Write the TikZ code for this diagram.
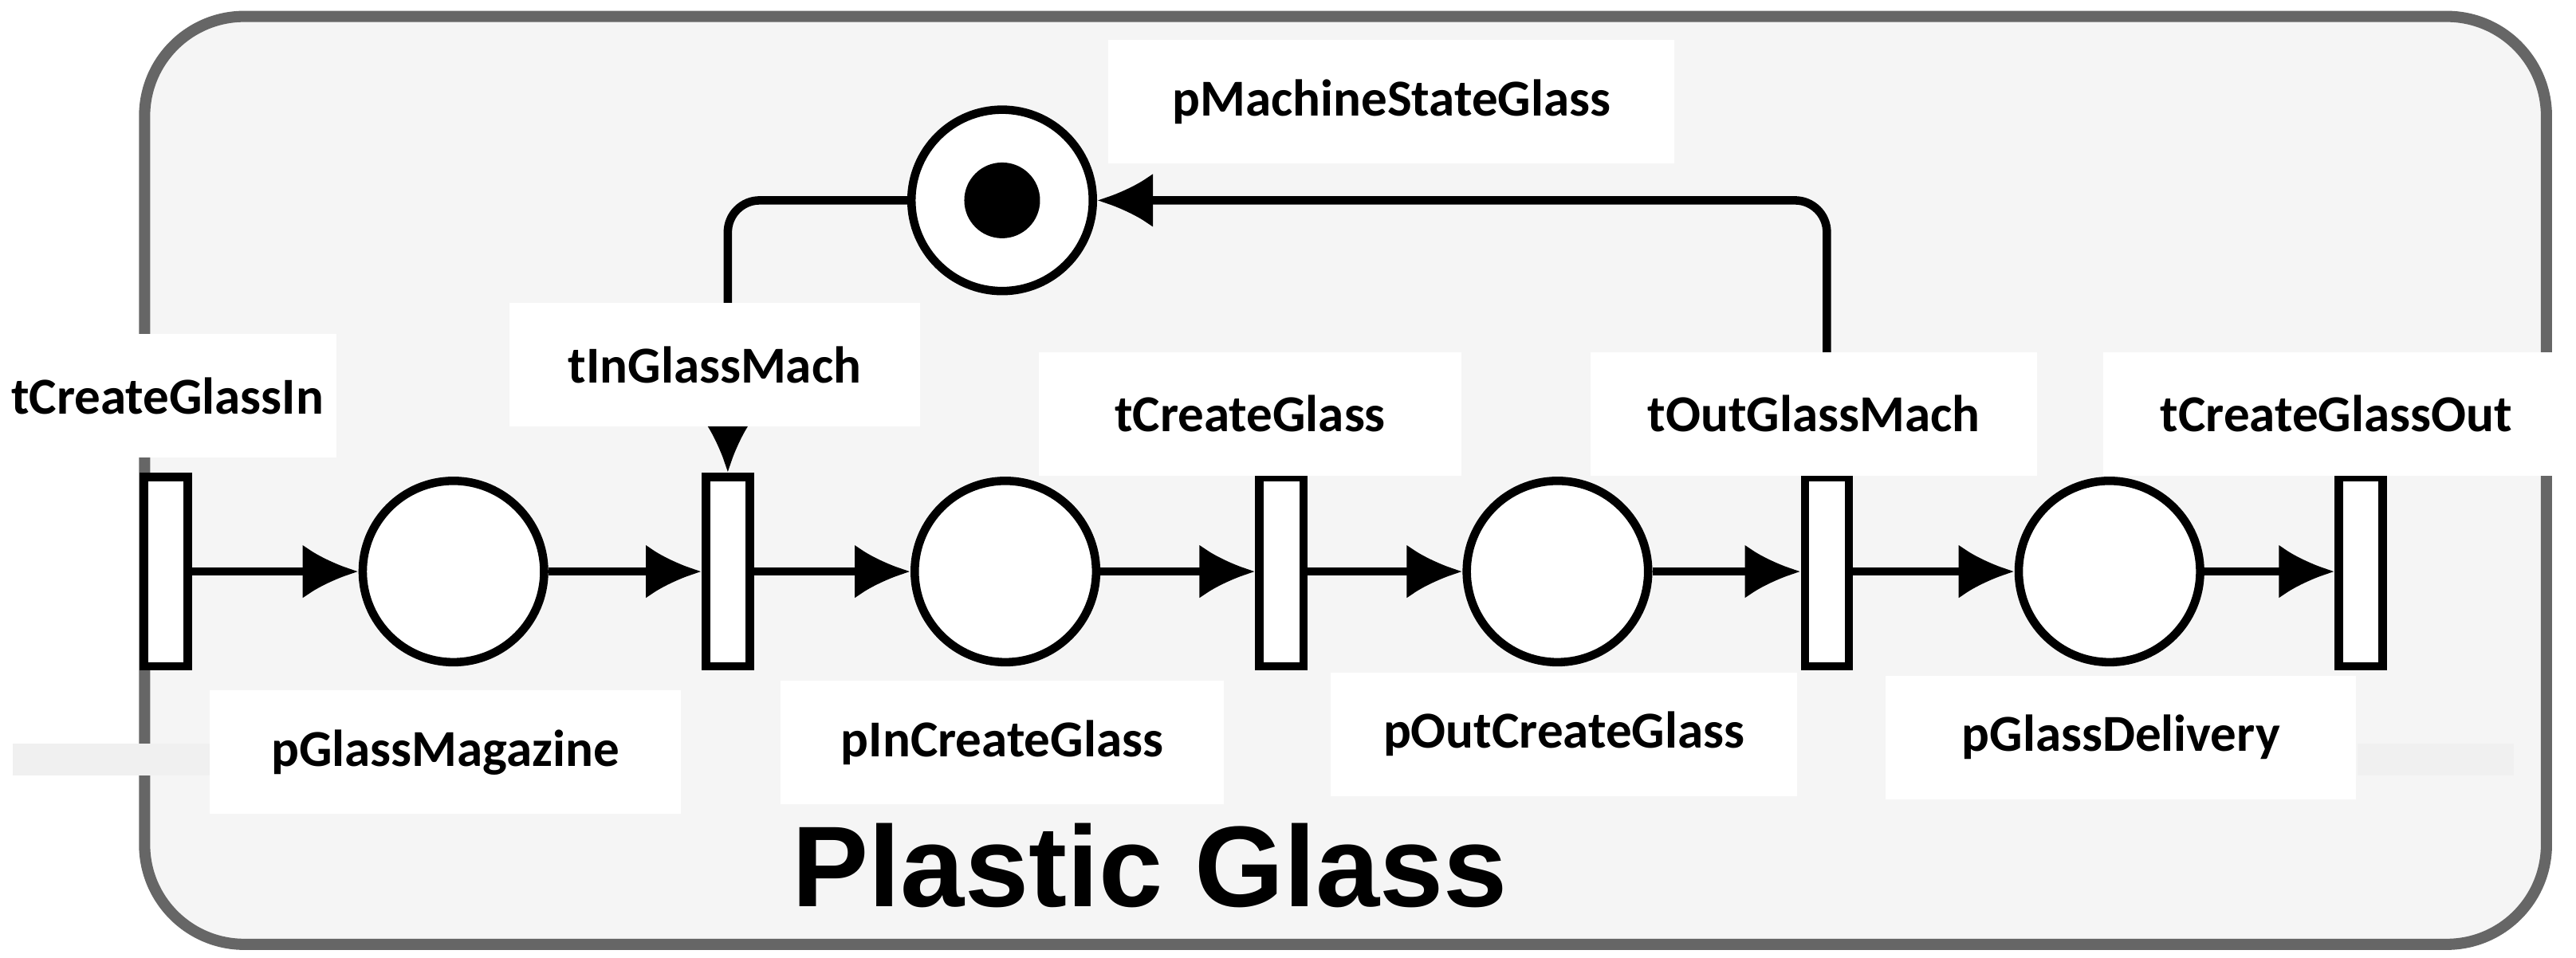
\documentclass[tikz,border=0pt]{standalone}
\usepackage{fontspec}
\setmainfont{Carlito}
\newfontfamily\titlefont{Liberation Sans}
\usetikzlibrary{arrows.meta,positioning}
\begin{document}
\begin{tikzpicture}[x=0.0412cm,y=-0.0412cm,
    trans/.style={draw,line width=6pt,fill=white,minimum width=1.1cm,minimum height=4.75cm,inner sep=0pt},
    place/.style={draw,circle,line width=6pt,fill=white,minimum size=4.55cm,inner sep=0pt},
    lbl/.style={fill=white,font=\fontsize{37}{42}\selectfont\bfseries,inner sep=0pt,minimum height=3.1cm},
    arc/.style={line width=6pt,-{Latex[length=1.4cm,width=1.35cm]},rounded corners=0.8cm}]
  \useasboundingbox (0,0) rectangle (1568,583);
  \draw[line width=8pt,draw=black!60,fill=black!4,rounded corners=2.5cm] (88,10) rectangle (1550,575);
  \fill[black!6] (8,453) rectangle (135,472);
  \fill[black!6] (1435,453) rectangle (1530,472);

  \node[trans] (t_in) at (101,348) {};
  \node[place] (p_mag) at (276,348) {};
  \node[trans] (t_mach) at (443,348) {};
  \node[place] (p_inc) at (612,348) {};
  \node[trans] (t_create) at (780,348) {};
  \node[place] (p_outc) at (948,348) {};
  \node[trans] (t_outm) at (1112,348) {};
  \node[place] (p_del) at (1284,348) {};
  \node[trans] (t_out) at (1437,348) {};
  \node[place] (p_state) at (610,122) {};
  \fill (p_state) circle (0.95cm);

  \path[arc]
    (t_in) edge (p_mag)
    (p_mag) edge (t_mach)
    (t_mach) edge (p_inc)
    (p_inc) edge (t_create)
    (t_create) edge (p_outc)
    (p_outc) edge (t_outm)
    (t_outm) edge (p_del)
    (p_del) edge (t_out);
  \draw[arc] (p_state.west) -| (t_mach.north);
  \draw[arc] (t_outm.north) |- (p_state.east);

  % labels
  \node[lbl,minimum width=8.45cm] at (102,241) {tCreateGlassIn};
  \node[lbl,minimum width=10.3cm] at (435,222) {tInGlassMach};
  \node[lbl,minimum width=10.6cm] at (761,252) {tCreateGlass};
  \node[lbl,minimum width=11.2cm] at (1104,252) {tOutGlassMach};
  \node[lbl,minimum width=11.7cm] at (1422,252) {tCreateGlassOut};
  \node[lbl,minimum width=14.2cm] at (847,62) {pMachineStateGlass};
  \node[lbl,minimum width=11.8cm] at (271,458) {pGlassMagazine};
  \node[lbl,minimum width=11.1cm] at (610,452) {pInCreateGlass};
  \node[lbl,minimum width=11.7cm] at (952,447) {pOutCreateGlass};
  \node[lbl,minimum width=11.8cm] at (1291,449) {pGlassDelivery};
  \node[font=\titlefont\fontsize{82}{88}\selectfont\bfseries] (title) at (700,527) {Plastic Glass};
\end{tikzpicture}
\end{document}
